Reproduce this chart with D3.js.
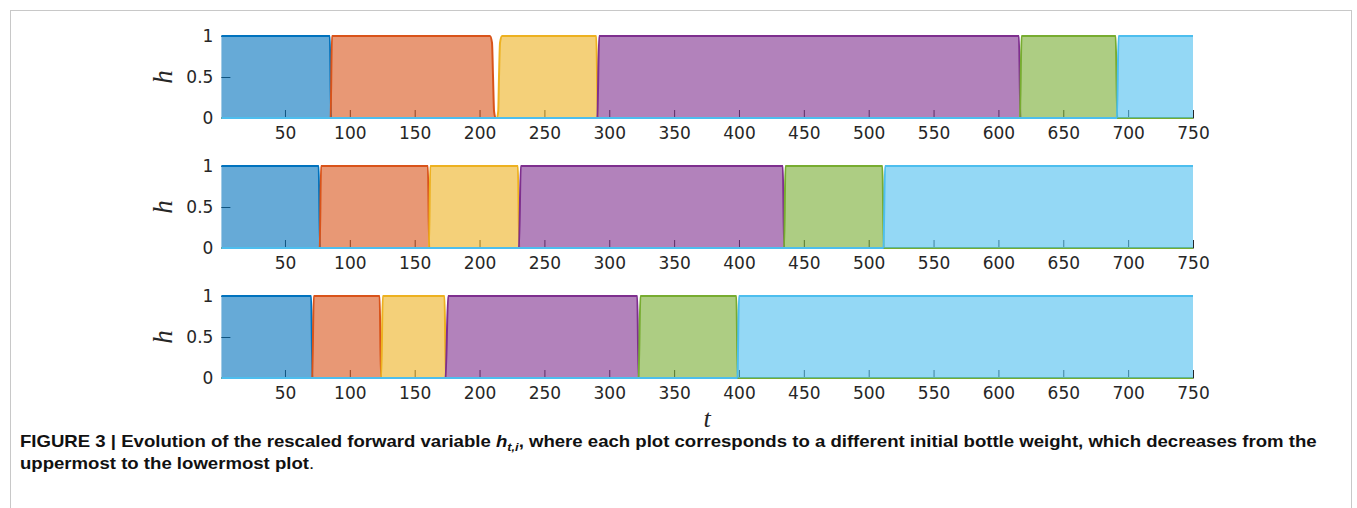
<!doctype html>
<html lang="en">
<head>
  <meta charset="utf-8">
  <title>Figure 3 - rescaled forward variable</title>
  <script type="text/javascript" src="https://cdnjs.cloudflare.com/ajax/libs/d3/7.8.5/d3.min.js"></script>
  <style>
    body { margin: 0; background: #fff; }
    .tick text { font-family: "DejaVu Sans", sans-serif; font-size: 17px; }
  </style>
</head>
<body>
  <svg width="1357" height="508" id="svg"></svg>
</body>

<script type="text/javascript">

	// tick values
	var tTicks = [50, 100, 150, 200, 250, 300, 350, 400, 450, 500, 550, 600, 650, 700, 750];
	var hTicks = [0, 0.5, 1];

	// one colour per hidden state (matlab default order)
	var stateColors = ['#0072BD', '#D95319', '#EDB120', '#7E2F8E', '#77AC30', '#4DBEEE'];

	// h per state as [t, h] points, top plot first
	var panelTop = [
		[[1,1],[84.6,1],[85.6,0],[750,0]],
		[[1,0],[85.2,0],[86.2,1],[208,1],[209.6,0.92],[210.4,0.5],[211.2,0.08],[212.4,0],[750,0]],
		[[1,0],[213.4,0],[214.4,0.08],[215,0.5],[215.8,0.92],[217.4,1],[290,1],[291.2,0],[750,0]],
		[[1,0],[290.8,0],[292.2,1],[615.8,1],[617,0],[750,0]],
		[[1,0],[616.6,0],[617.8,1],[690.4,1],[691.6,0],[750,0]],
		[[1,0],[691.4,0],[692.6,1],[750,1]]
	];

	var panelMiddle = [
		[[1,1],[76,1],[77,0],[750,0]],
		[[1,0],[76.8,0],[77.8,1],[160.2,1],[161.2,0],[750,0]],
		[[1,0],[161,0],[162,1],[229.6,1],[230.6,0],[750,0]],
		[[1,0],[230.4,0],[231.8,1],[433.8,1],[434.8,0],[750,0]],
		[[1,0],[434.8,0],[435.8,1],[510.6,1],[511.6,0],[750,0]],
		[[1,0],[511.4,0],[512.6,1],[750,1]]
	];

	var panelBottom = [
		[[1,1],[70.2,1],[71.2,0],[750,0]],
		[[1,0],[71,0],[72.2,1],[123,1],[124,0],[750,0]],
		[[1,0],[124.2,0],[125.4,1],[173,1],[174,0],[750,0]],
		[[1,0],[173.8,0],[175.8,1],[321.6,1],[322.6,0],[750,0]],
		[[1,0],[322.6,0],[324,1],[398,1],[399,0],[750,0]],
		[[1,0],[398.8,0],[400,1],[750,1]]
	];

	var panels = [panelTop, panelMiddle, panelBottom];

	var svg = d3.select('#svg');

	// light frame round the whole figure
	svg.append('rect')
		.attr('x', 10.5)
		.attr('y', 10.5)
		.attr('width', 1341)
		.attr('height', 600)
		.attr('fill', 'none')
		.attr('stroke', '#c8c8c8');

	var x = d3.scaleLinear()
		.domain([1, 750])
		.range([221.4, 1193]);

	panels.forEach(function(series, p) {
		var top = 36 + p * 130;
		var y = d3.scaleLinear()
			.domain([0, 1])
			.range([top + 82, top]);

		var g = svg.append('g');

		// axes go underneath, the transparent fills tint the ticks
		g.append('g')
			.attr('transform', 'translate(0,' + y(0) + ')')
			.attr('color', '#262626')
			.call(d3.axisBottom(x).tickValues(tTicks).tickSize(-8).tickSizeOuter(0).tickPadding(9));

		g.append('g')
			.attr('transform', 'translate(' + x(1) + ',0)')
			.attr('color', '#262626')
			.call(d3.axisLeft(y).tickValues(hTicks).tickSize(-9).tickPadding(8).tickFormat(d3.format('~g')))
			.call(function(a) { a.select('.domain').remove(); });

		var area = d3.area()
			.x(function(d) { return x(d[0]); })
			.y0(y(0))
			.y1(function(d) { return y(d[1]); })
			.curve(d3.curveMonotoneX);

		var line = d3.line()
			.x(function(d) { return x(d[0]); })
			.y(function(d) { return y(d[1]); })
			.curve(d3.curveMonotoneX);

		series.forEach(function(pts, i) {
			g.append('path')
				.attr('d', area(pts))
				.attr('fill', stateColors[i])
				.attr('fill-opacity', 0.6);
			g.append('path')
				.attr('d', line(pts))
				.attr('fill', 'none')
				.attr('stroke', stateColors[i])
				.attr('stroke-width', 2);
		});

		// y label
		var ly = top + 41;
		g.append('text')
			.attr('x', 163)
			.attr('y', ly)
			.attr('transform', 'rotate(-90,163,' + ly + ')')
			.attr('text-anchor', 'middle')
			.attr('dominant-baseline', 'central')
			.style('font-family', '"Liberation Serif", serif')
			.style('font-style', 'italic')
			.style('font-size', '27px')
			.attr('fill', '#262626')
			.text('h');
	});

	svg.append('text')
		.attr('x', 707)
		.attr('y', 427)
		.attr('text-anchor', 'middle')
		.style('font-family', '"Liberation Serif", serif')
		.style('font-style', 'italic')
		.style('font-size', '26px')
		.attr('fill', '#262626')
		.text('t');

	// caption, two lines
	var capStyle = function(t) {
		t.style('font-family', '"Liberation Sans", Arial, sans-serif')
			.style('font-weight', 'bold')
			.style('font-size', '16px')
			.attr('fill', '#111');
	};

	var cap1 = svg.append('text').attr('x', 0).attr('y', 0).call(capStyle);
	cap1.append('tspan').text('FIGURE 3 | Evolution of the rescaled forward variable ');
	cap1.append('tspan').style('font-style', 'italic').text('h');
	cap1.append('tspan').style('font-style', 'italic').style('font-size', '11px').attr('dy', 4).text('t,i');
	cap1.append('tspan').attr('dy', -4).text(', where each plot corresponds to a different initial bottle weight, which decreases from the');

	var cap2 = svg.append('text').attr('x', 0).attr('y', 0).call(capStyle);
	cap2.append('tspan').text('uppermost to the lowermost plot');
	cap2.append('tspan').style('font-weight', 'normal').text('.');

	var sx = 1298 / cap1.node().getComputedTextLength();
	cap1.attr('transform', 'translate(20,447) scale(' + sx + ',1)');
	cap2.attr('transform', 'translate(20,469) scale(' + sx + ',1)');

</script>
</html>
